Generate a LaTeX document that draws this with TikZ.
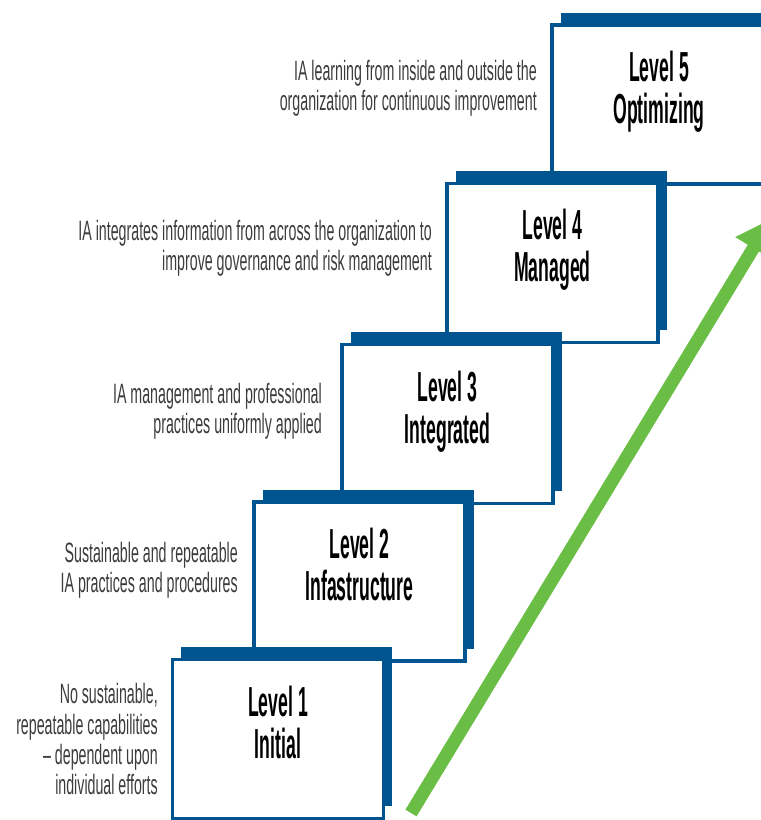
\documentclass[tikz,border=0pt]{standalone}
\usepackage{fontspec}
\usepackage{xcolor}
\usepackage{tikz}
\usetikzlibrary{shadows}
\usetikzlibrary{arrows.meta}
\newfontfamily\descfont[FakeStretch=0.508]{Liberation Sans}
\newfontfamily\levelfont[FakeStretch=0.42]{Liberation Sans}
\definecolor{iablue}{RGB}{0,85,145}
\definecolor{iagreen}{RGB}{106,189,69}
\definecolor{iagray}{RGB}{60,60,60}
\tikzset{ level_box/.style = {rectangle, draw=iablue, line width=3.5pt, fill=white, minimum width=211pt, minimum height=159pt, inner sep=0pt, general shadow={fill=iablue, shadow xshift=8.5pt, shadow yshift=12.5pt}} }
\tikzset{ level_name/.style = {align=center, inner sep=0pt, anchor=north, font=\levelfont\bfseries\fontsize{42}{42}\selectfont} }
\tikzset{ level_desc/.style = {align=right, inner sep=0pt, anchor=north east, text=iagray, font=\descfont\fontsize{28}{30.5}\selectfont} }
\tikzset{ growth/.style = {line width=13pt, draw=iagreen, -{Triangle[width=40pt,length=34pt]}} }

\begin{document}
\begin{tikzpicture}[x=1pt,y=-1pt]
        \clip (0,0) rectangle (761,820);
        % steps, top one first so the lower ones sit over it
        \node[level_box] (5) at (657.5,104.5) {};
        \node[level_box] (4) at (552.5,263) {};
        \node[level_box] (3) at (447.5,424) {};
        \node[level_box] (2) at (359.5,581.5) {};
        \node[level_box] (1) at (278,739) {};
        \node[level_name] (n5) at (659,50.5) {Level 5\\Optimizing};
        \node[level_name] (n4) at (552.5,208.5) {Level 4\\Managed};
        \node[level_name] (n3) at (447.5,370.5) {Level 3\\Integrated};
        \node[level_name] (n2) at (359.5,528) {Level 2\\Infastructure};
        \node[level_name] (n1) at (278,686) {Level 1\\Initial};
        \node[level_desc] (d5) at (537,60) {IA learning from inside and outside the\\organization for continuous improvement};
        \node[level_desc] (d4) at (432,220) {IA integrates information from across the organization to\\improve governance and risk management};
        \node[level_desc] (d3) at (322,383) {IA management and professional\\practices uniformly applied};
        \node[level_desc] (d2) at (238,542) {Sustainable and repeatable\\IA practices and procedures};
        \node[level_desc] (d1) at (158,683) {No sustainable,\\repeatable capabilities\\– dependent upon\\individual efforts};
        \coordinate (tail) at (411,813);
        \coordinate (tip) at (771,219);
        \draw[growth] (tail) -- (tip);
\end{tikzpicture}
\end{document}
